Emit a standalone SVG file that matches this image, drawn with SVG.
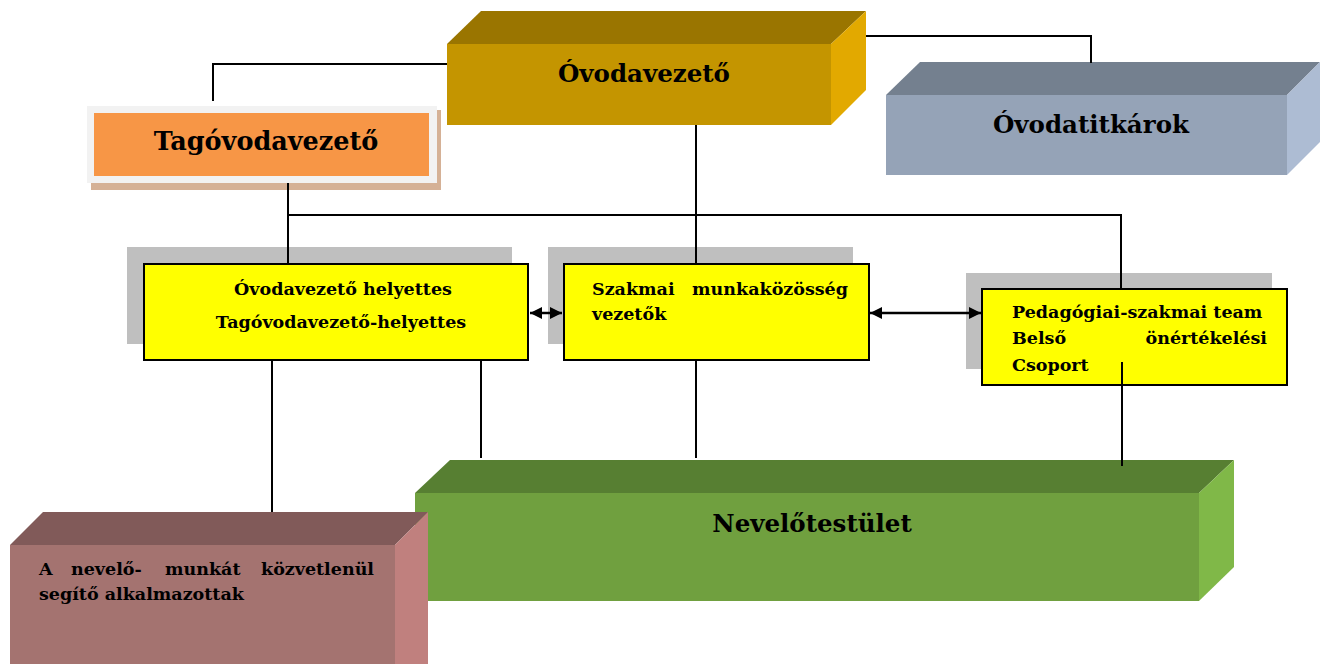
<svg xmlns="http://www.w3.org/2000/svg" width="1329" height="664" viewBox="0 0 1329 664">
<defs>
<marker id="ah" viewBox="0 0 10 10" refX="10" refY="5" markerWidth="12" markerHeight="12" markerUnits="userSpaceOnUse" orient="auto-start-reverse">
<path d="M0,0 L10,5 L0,10 z" fill="#000"/>
</marker>
<style>
.t{font-family:"DejaVu Serif","Liberation Serif",serif;font-weight:bold;fill:#000}
.title{font-size:24.5px}
.small{font-size:17.5px}
.yb{fill:#FFFF00;stroke:#000;stroke-width:2}
.sh{fill:#BFBFBF}
.ln{stroke:#000;stroke-width:2;fill:none}
.ar{stroke:#000;stroke-width:2.5;fill:none}
</style>
</defs>
<rect width="1329" height="664" fill="#fff"/>

<g id="ovodavezeto">
<polygon points="447,44 481,11 866,11 831,44" fill="#9A7500"/>
<polygon points="831,44 866,11 866,90 831,125" fill="#E2A900"/>
<rect x="447" y="44" width="384" height="81" fill="#C49500"/>
<text class="t title" x="644" y="82" text-anchor="middle">Óvodavezető</text>
</g>

<g id="tagovodavezeto">
<rect x="91" y="110" width="350" height="80" fill="#D5B196"/>
<rect x="87" y="106" width="350" height="77" fill="#F2F2F2"/>
<rect x="94" y="113" width="335" height="63" fill="#F79646"/>
<text class="t title" x="266" y="150" text-anchor="middle" style="font-size:25.5px">Tagóvodavezető</text>
</g>

<g id="ovodatitkarok">
<polygon points="886,95 920,62 1320,62 1287,95" fill="#74808F"/>
<polygon points="1287,95 1320,62 1320,142 1287,175" fill="#ADBCD3"/>
<rect x="886" y="95" width="401" height="80" fill="#95A3B7"/>
<text class="t title" x="1091" y="133" text-anchor="middle">Óvodatitkárok</text>
</g>

<g id="helyettes">
<rect class="sh" x="127" y="247" width="385" height="97"/>
<rect class="yb" x="144" y="264" width="384" height="96"/>
<text class="t small" x="343" y="295" text-anchor="middle">Óvodavezető helyettes</text>
<text class="t small" x="341" y="328" text-anchor="middle">Tagóvodavezető-helyettes</text>
</g>

<g id="szakmai">
<rect class="sh" x="548" y="247" width="305" height="97"/>
<rect class="yb" x="564" y="264" width="305" height="96"/>
<text class="t small" y="295"><tspan x="592">Szakmai</tspan><tspan x="848" text-anchor="end">munkaközösség</tspan></text>
<text class="t small" x="592" y="320">vezetők</text>
</g>

<g id="pedagogiai">
<rect class="sh" x="966" y="273" width="306" height="96"/>
<rect class="yb" x="982" y="289" width="305" height="96"/>
<text class="t small" x="1012" y="318">Pedagógiai-szakmai team</text>
<text class="t small" y="344"><tspan x="1012">Belső</tspan><tspan x="1267" text-anchor="end">önértékelési</tspan></text>
<text class="t small" x="1012" y="371">Csoport</text>
</g>

<g id="nevelotestulet">
<polygon points="415,493 450,460 1234,460 1199,493" fill="#577F32"/>
<polygon points="1199,493 1234,460 1234,567 1199,601" fill="#80B848"/>
<rect x="415" y="493" width="784" height="108" fill="#70A03F"/>
<text class="t title" x="812" y="532" text-anchor="middle">Nevelőtestület</text>
</g>

<g id="alkalmazottak">
<polygon points="10,545 43,512 428,512 395,545" fill="#815A59"/>
<polygon points="395,545 428,512 428,664 395,664" fill="#C0807E"/>
<rect x="10" y="545" width="385" height="119" fill="#A47370"/>
<text class="t small" y="575"><tspan x="39">A</tspan><tspan x="71">nevelő-</tspan><tspan x="165">munkát</tspan><tspan x="374" text-anchor="end">közvetlenül</tspan></text>
<text class="t small" x="39" y="600">segítő alkalmazottak</text>
</g>

<g id="connectors">
<polyline class="ln" points="447,64 213,64 213,101"/>
<polyline class="ln" points="866,36 1091,36 1091,63"/>
<line class="ln" x1="696" y1="125" x2="696" y2="264"/>
<line class="ln" x1="288" y1="183" x2="288" y2="264"/>
<polyline class="ln" points="288,215 1121,215 1121,289"/>
<line class="ar" x1="530" y1="313" x2="562" y2="313" marker-start="url(#ah)" marker-end="url(#ah)"/>
<line class="ar" x1="870" y1="313" x2="981" y2="313" marker-start="url(#ah)" marker-end="url(#ah)"/>
<line class="ln" x1="272" y1="360" x2="272" y2="512"/>
<line class="ln" x1="481" y1="360" x2="481" y2="458"/>
<line class="ln" x1="696" y1="360" x2="696" y2="458"/>
<line class="ln" x1="1122" y1="362" x2="1122" y2="466"/>
</g>
</svg>
